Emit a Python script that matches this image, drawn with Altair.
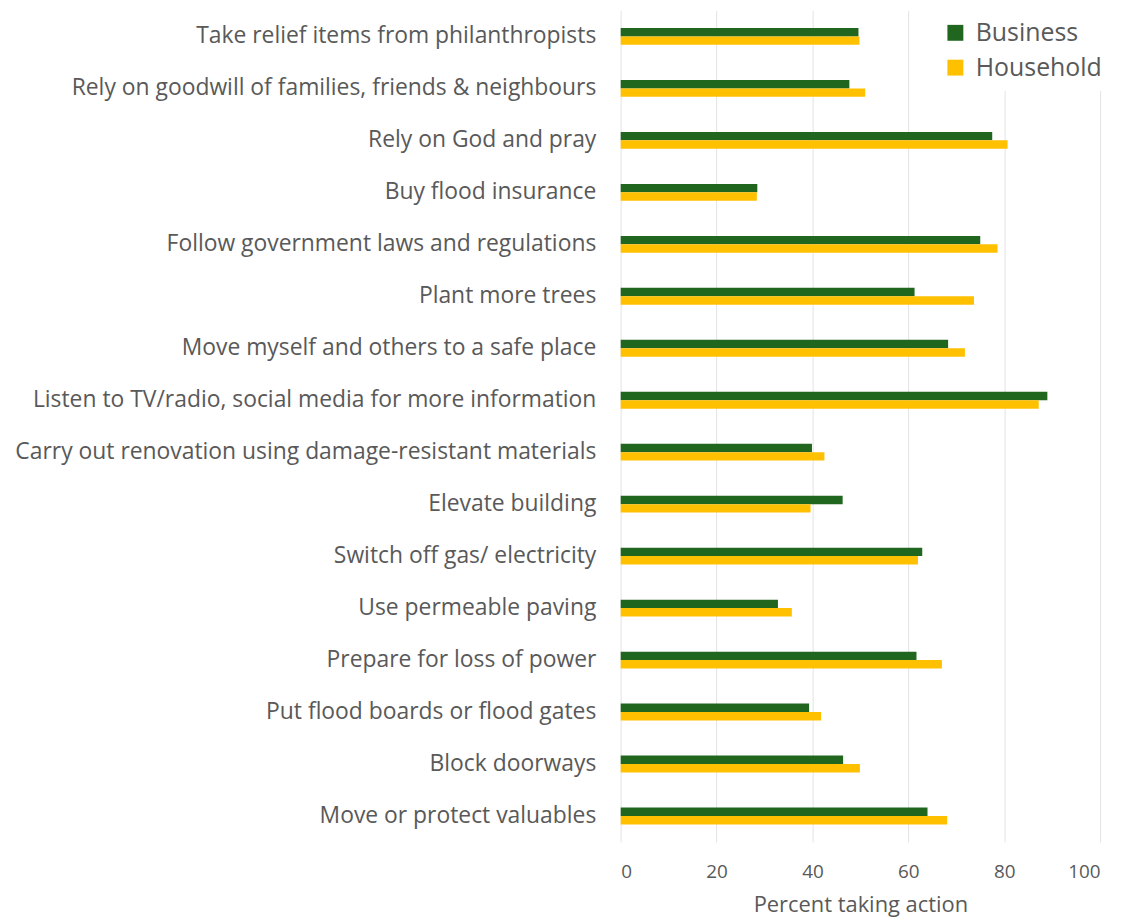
import altair as alt
import pandas as pd

categories = [
    "Take relief items from philanthropists",
    "Rely on goodwill of families, friends & neighbours\u00a0",
    "Rely on God and pray",
    "Buy flood insurance",
    "Follow government laws and regulations",
    "Plant more trees",
    "Move myself and others to a safe place",
    "Listen to TV/radio, social media for more information",
    "Carry out renovation using damage-resistant materials",
    "Elevate building",
    "Switch off gas/ electricity",
    "Use permeable paving\u00a0",
    "Prepare for loss of power\u00a0",
    "Put flood boards or flood gates\u00a0",
    "Block doorways",
    "Move or protect valuables\u00a0",
]
business = [49.6, 47.7, 77.5, 28.5, 75.0, 61.3, 68.3, 89.0, 39.9, 46.3, 62.9, 32.8, 61.7, 39.3, 46.4, 64.0]
household = [49.8, 51.0, 80.7, 28.4, 78.6, 73.7, 71.8, 87.2, 42.5, 39.6, 62.0, 35.7, 67.0, 41.8, 49.9, 68.1]
series = ["Business", "Household"]
colors = ["#21661F", "#FFC000"]
x_ticks = [0, 20, 40, 60, 80, 100]

rows = []
for c, b, h in zip(categories, business, household):
    rows.append({"action": c, "group": "Business", "pct": b})
    rows.append({"action": c, "group": "Household", "pct": h})
df = pd.DataFrame(rows)

FONT = "Open Sans"
TXT = "#595959"

chart = alt.Chart(df).mark_bar().encode(
    y=alt.Y("action:N", sort=categories,
            scale=alt.Scale(paddingInner=0.676, paddingOuter=0.338),
            axis=alt.Axis(title=None, ticks=False, domain=False, grid=False,
                          labelPadding=25, labelFontSize=23, labelFont=FONT,
                          labelColor=TXT, labelLimit=700)),
    yOffset=alt.YOffset("group:N", sort=series, scale=alt.Scale(paddingInner=0, paddingOuter=0)),
    x=alt.X("pct:Q", scale=alt.Scale(domain=[0, 100], nice=False),
            axis=alt.Axis(title="Percent taking action", values=x_ticks, ticks=False,
                          domain=False, grid=True, gridColor="#e3e3e3", gridWidth=1,
                          labelFontSize=19, labelFont=FONT, labelColor=TXT,
                          labelPadding=21, titleFontSize=22, titleFont=FONT,
                          titleColor=TXT, titleFontWeight="normal", titlePadding=13)),
    color=alt.Color("group:N", sort=series,
                    scale=alt.Scale(domain=series, range=colors),
                    legend=alt.Legend(title=None, orient="none", legendX=314, legendY=0,
                                      symbolType="square", symbolSize=256,
                                      symbolStrokeWidth=0, labelFontSize=25,
                                      labelFont=FONT, labelColor=TXT, rowPadding=9,
                                      padding=10, fillColor="white", labelOffset=8)),
).properties(width=482, height=836)

chart = chart.configure_view(stroke=None).properties(padding={"left": 6, "top": 0, "right": 5, "bottom": 0})
chart.save("out.html", embed_options={"renderer": "svg", "actions": False})
